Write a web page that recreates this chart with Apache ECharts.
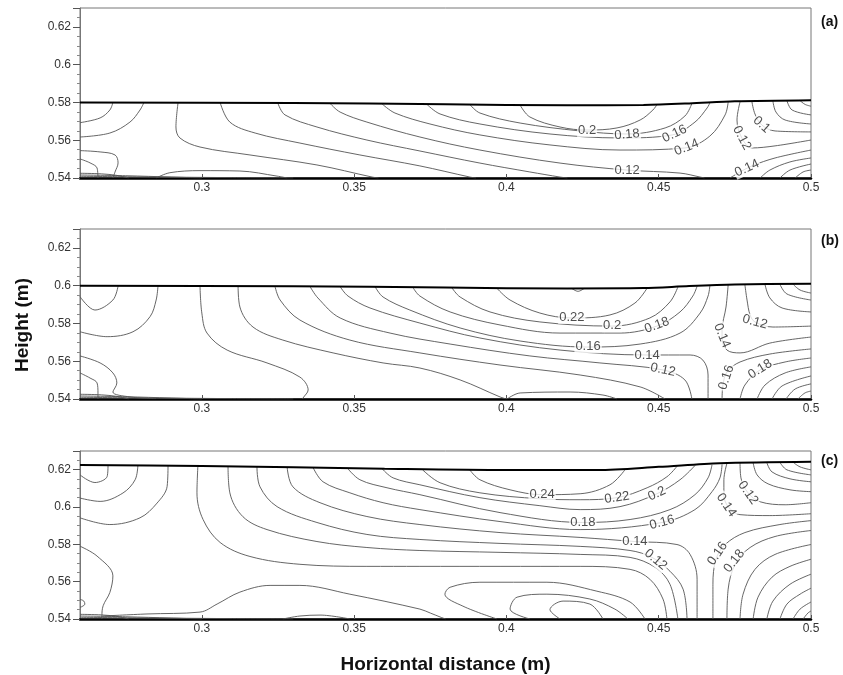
<!DOCTYPE html>
<html>
<head>
<meta charset="utf-8">
<title>Contours</title>
<script src="https://cdn.jsdelivr.net/npm/echarts@6/dist/echarts.min.js"></script>
<style>
  html, body { margin: 0; padding: 0; background: #fff; }
  #chart { width: 843px; height: 675px; }
</style>
</head>
<body>
<div id="chart"></div>
<script>
// tick labels
const xTicks = [0.3, 0.35, 0.4, 0.45, 0.5];
const panelNames = ["(a)", "(b)", "(c)"];

// ---- panel (a) ----
const surfA = [[0.26,0.58],[0.33,0.5797],[0.38,0.579],[0.42,0.5785],[0.445,0.5787],[0.46,0.5795],[0.475,0.5806],[0.5,0.5812]];
const linesA = [
  [[0.26,0.5693],[0.2666,0.5718],[0.2698,0.576],[0.2708,0.58]],
  [[0.26,0.5617],[0.2698,0.5638],[0.2764,0.5696],[0.2797,0.576],[0.281,0.58]],
  [[0.26,0.5545],[0.2666,0.5538],[0.2715,0.5522],[0.2725,0.548],[0.2715,0.5432],[0.2708,0.54]],
  [[0.26,0.5501],[0.2633,0.548],[0.2656,0.5453],[0.2659,0.54]],
  [[0.26,0.5425],[0.267,0.5422],[0.272,0.5414],[0.276,0.54]],
  [[0.26,0.5416],[0.275,0.5412],[0.29,0.5405],[0.30,0.54]],
  [[0.26,0.5409],[0.28,0.5406],[0.31,0.5402],[0.33,0.54]],
  [[0.285,0.54],[0.2895,0.5428],[0.2994,0.5439],[0.3125,0.5437],[0.3247,0.541],[0.328,0.54]],
  [[0.2922,0.58],[0.2915,0.567],[0.2928,0.5612],[0.2994,0.5564],[0.3158,0.5522],[0.3378,0.5469],[0.3559,0.5405],[0.358,0.54]],
  [[0.306,0.58],[0.3092,0.5696],[0.3175,0.5638],[0.3322,0.5585],[0.3519,0.5522],[0.3716,0.5464],[0.388,0.5405],[0.39,0.54]],
  [[0.325,0.5795],[0.3273,0.5734],[0.3378,0.567],[0.3542,0.5601],[0.3716,0.5543],[0.3913,0.5479],[0.4077,0.5432],[0.4176,0.5405],[0.42,0.54]],
  [[0.3421,0.5795],[0.3454,0.5749],[0.3542,0.5696],[0.3716,0.5617],[0.3913,0.5548],[0.4176,0.5479],[0.4396,0.5442],[0.457,0.5426],[0.4636,0.5405],[0.465,0.54]],
  [[0.3592,0.5792],[0.3634,0.5744],[0.3749,0.5686],[0.3913,0.5628],[0.4143,0.5575],[0.4373,0.5548],[0.4586,0.5559],[0.4668,0.5622],[0.4718,0.5734],[0.4728,0.5802]],
  [[0.3739,0.579],[0.3782,0.5739],[0.3913,0.5686],[0.4143,0.5633],[0.4373,0.5612],[0.4544,0.5628],[0.4619,0.5696],[0.4659,0.5771],[0.4668,0.5798]],
  [[0.388,0.5789],[0.3913,0.5744],[0.4045,0.5691],[0.4242,0.5649],[0.4396,0.5633],[0.4521,0.5665],[0.4586,0.5728],[0.4609,0.5795]],
  [[0.4045,0.5786],[0.4077,0.5723],[0.4176,0.567],[0.4265,0.5654],[0.4363,0.5665],[0.4439,0.5707],[0.4481,0.576],[0.4494,0.5788]],
  [[0.4767,0.5803],[0.4757,0.5707],[0.4773,0.5612],[0.4806,0.5559],[0.4882,0.557],[0.5,0.5601]],
  [[0.4806,0.5804],[0.4816,0.5739],[0.4839,0.568],[0.4882,0.5649],[0.5,0.5644]],
  [[0.4875,0.5807],[0.4885,0.5749],[0.4915,0.5707],[0.5,0.5686]],
  [[0.4921,0.5809],[0.4938,0.576],[0.5,0.5734]],
  [[0.4964,0.581],[0.498,0.579],[0.5,0.578]],
  [[0.4734,0.54],[0.4767,0.5432],[0.4806,0.5464],[0.4882,0.5506],[0.5,0.5548]],
  [[0.4833,0.54],[0.4865,0.5442],[0.4931,0.5485],[0.5,0.5506]],
  [[0.4898,0.54],[0.4931,0.5442],[0.5,0.5474]],
  [[0.4948,0.54],[0.4974,0.5432],[0.5,0.5442]]
];
const labelsA = [
  ["0.2", 0.4265, 0.5652, 0], ["0.18", 0.4396, 0.5630, 5], ["0.16", 0.4552, 0.5634, 25],
  ["0.14", 0.4592, 0.5562, 22], ["0.12", 0.4396, 0.5442, 0],
  ["0.12", 0.4773, 0.5612, -62], ["0.1", 0.4838, 0.5683, -42], ["0.14", 0.4790, 0.5452, 25]
];

// ---- panel (b) ----
const surfB = [[0.26,0.6],[0.33,0.5997],[0.38,0.599],[0.42,0.5985],[0.445,0.5987],[0.46,0.5998],[0.475,0.6006],[0.5,0.601]];
const linesB = [
  [[0.26,0.5942],[0.2649,0.5871],[0.2708,0.5924],[0.2725,0.5998]],
  [[0.26,0.5756],[0.2689,0.573],[0.2774,0.5756],[0.283,0.5836],[0.285,0.5924],[0.2856,0.5998]],
  [[0.26,0.5628],[0.2666,0.5591],[0.2708,0.5538],[0.2721,0.5485],[0.2708,0.5437],[0.2764,0.5411],[0.285,0.5402]],
  [[0.26,0.5538],[0.2633,0.5511],[0.2656,0.5485],[0.2659,0.5432],[0.2659,0.54]],
  [[0.26,0.5425],[0.267,0.5422],[0.272,0.5414],[0.276,0.54]],
  [[0.26,0.5416],[0.275,0.5412],[0.29,0.5405],[0.30,0.54]],
  [[0.26,0.5409],[0.28,0.5406],[0.31,0.5402],[0.33,0.54]],
  [[0.2994,0.5998],[0.3,0.5855],[0.3017,0.5749],[0.3083,0.5659],[0.3214,0.5591],[0.3322,0.5516],[0.3349,0.5448],[0.3332,0.5405],[0.333,0.54]],
  [[0.3119,0.5998],[0.3125,0.5887],[0.3168,0.5781],[0.3266,0.5712],[0.3431,0.5644],[0.3595,0.5591],[0.3716,0.5564],[0.3848,0.5501],[0.3979,0.5411],[0.40,0.54]],
  [[0.4002,0.54],[0.4045,0.5432],[0.4209,0.5437],[0.4317,0.5421],[0.4363,0.54]],
  [[0.324,0.5998],[0.3257,0.5924],[0.3322,0.5818],[0.3486,0.5712],[0.3716,0.5644],[0.3979,0.558],[0.4242,0.5527],[0.4439,0.5464],[0.4521,0.54]],
  [[0.3355,0.5996],[0.3381,0.5935],[0.3454,0.5829],[0.3618,0.5749],[0.3815,0.5691],[0.4077,0.5628],[0.4307,0.5591],[0.4514,0.5554],[0.4586,0.5501],[0.4609,0.54]],
  [[0.3454,0.5995],[0.348,0.5945],[0.3552,0.5882],[0.3716,0.5802],[0.3913,0.5723],[0.4176,0.5659],[0.4462,0.5633],[0.4603,0.5633],[0.4645,0.5606],[0.4662,0.5527],[0.4662,0.54]],
  [[0.3569,0.5994],[0.3595,0.594],[0.3683,0.5871],[0.3848,0.5776],[0.4045,0.5707],[0.4268,0.5675],[0.4439,0.5691],[0.457,0.5749],[0.4636,0.5855],[0.4662,0.5945],[0.4668,0.6]],
  [[0.3693,0.5991],[0.3716,0.5945],[0.3815,0.5861],[0.3979,0.5792],[0.4176,0.5749],[0.4373,0.5749],[0.4494,0.5786],[0.457,0.5861],[0.4612,0.5945],[0.4626,0.5997]],
  [[0.3821,0.5989],[0.3848,0.594],[0.3946,0.5861],[0.411,0.5808],[0.4347,0.5786],[0.4471,0.5829],[0.4537,0.5914],[0.4563,0.5993]],
  [[0.3969,0.5986],[0.4012,0.5924],[0.411,0.5855],[0.4215,0.5829],[0.434,0.5845],[0.4422,0.5908],[0.4462,0.5987]],
  [[0.4215,0.5985],[0.4235,0.597],[0.4255,0.5985]],
  [[0.4728,0.6004],[0.4721,0.5887],[0.4708,0.5765],[0.4708,0.5723],[0.4724,0.5659],[0.4767,0.5644],[0.4865,0.5696],[0.5,0.5728]],
  [[0.4783,0.6005],[0.479,0.5924],[0.48,0.5845],[0.4816,0.5808],[0.4875,0.5781],[0.5,0.5786]],
  [[0.4849,0.6006],[0.4865,0.5935],[0.4905,0.5882],[0.5,0.5861]],
  [[0.4898,0.6007],[0.4921,0.5956],[0.5,0.5924]],
  [[0.4941,0.6008],[0.4964,0.5977],[0.5,0.5961]],
  [[0.4708,0.54],[0.4711,0.5474],[0.4724,0.5543],[0.4767,0.5596],[0.4865,0.5638],[0.5,0.5665]],
  [[0.4767,0.54],[0.4783,0.5474],[0.4833,0.5554],[0.4915,0.5596],[0.5,0.5617]],
  [[0.4823,0.54],[0.4849,0.5474],[0.4915,0.5538],[0.5,0.557]],
  [[0.4872,0.54],[0.4905,0.5469],[0.5,0.5522]],
  [[0.4918,0.54],[0.4948,0.5453],[0.5,0.548]],
  [[0.4957,0.54],[0.498,0.5432],[0.5,0.5442]]
];
const labelsB = [
  ["0.22", 0.4215, 0.5832, 0], ["0.2", 0.4347, 0.5788, 0], ["0.18", 0.4494, 0.5790, 20],
  ["0.16", 0.4268, 0.5676, 0], ["0.14", 0.4462, 0.5633, 0], ["0.12", 0.4514, 0.5554, -12],
  ["0.14", 0.4708, 0.5735, -68], ["0.12", 0.4816, 0.5808, -15],
  ["0.16", 0.4722, 0.5514, 72], ["0.18", 0.4833, 0.5558, 32]
];

// ---- panel (c) ----
const surfC = [[0.26,0.6225],[0.3,0.622],[0.36,0.6205],[0.40,0.6198],[0.43,0.6198],[0.45,0.6215],[0.47,0.6235],[0.5,0.6243]];
const linesC = [
  [[0.26,0.6172],[0.2649,0.6131],[0.2689,0.6163],[0.2692,0.6222]],
  [[0.26,0.6048],[0.2666,0.603],[0.2741,0.6075],[0.2781,0.6146],[0.279,0.6222]],
  [[0.26,0.5942],[0.2698,0.5906],[0.2797,0.5942],[0.2853,0.6021],[0.2886,0.611],[0.2889,0.6221]],
  [[0.26,0.579],[0.2656,0.5737],[0.2708,0.5631],[0.2698,0.5542],[0.2676,0.5471],[0.2672,0.5416],[0.2672,0.54]],
  [[0.26,0.5505],[0.2612,0.5497],[0.2616,0.548],[0.2607,0.5467],[0.26,0.5463]],
  [[0.26,0.5425],[0.267,0.5422],[0.272,0.5414],[0.276,0.54]],
  [[0.26,0.5416],[0.275,0.5412],[0.29,0.5405],[0.30,0.54]],
  [[0.26,0.5409],[0.28,0.5406],[0.31,0.5402],[0.33,0.54]],
  [[0.2676,0.5416],[0.282,0.5427],[0.2994,0.5437],[0.305,0.548],[0.3125,0.5544],[0.3224,0.558],[0.3322,0.558],[0.3486,0.5533],[0.3716,0.5453],[0.375,0.5432],[0.3782,0.5411],[0.38,0.54]],
  [[0.3266,0.54],[0.3322,0.5416],[0.3388,0.5421],[0.3486,0.54]],
  [[0.2987,0.6219],[0.2984,0.6076],[0.3004,0.5933],[0.306,0.581],[0.3158,0.5735],[0.3322,0.5693],[0.3542,0.5682],[0.3716,0.5682],[0.3979,0.5682],[0.4242,0.5682],[0.4406,0.5666],[0.4471,0.5613],[0.4514,0.5507],[0.4527,0.54]],
  [[0.3086,0.6218],[0.3092,0.6076],[0.3135,0.5948],[0.3214,0.5879],[0.3378,0.5815],[0.3542,0.5783],[0.3716,0.5767],[0.3979,0.5757],[0.4242,0.5746],[0.4406,0.573],[0.4488,0.5677],[0.4537,0.5586],[0.4563,0.54]],
  [[0.3181,0.6216],[0.3191,0.6108],[0.3247,0.6002],[0.3378,0.5917],[0.3542,0.5853],[0.3716,0.5826],[0.3979,0.5805],[0.4242,0.5789],[0.4406,0.5767],[0.4478,0.573],[0.4537,0.5656],[0.458,0.556],[0.4593,0.54]],
  [[0.328,0.6214],[0.3299,0.6108],[0.3388,0.6023],[0.3542,0.5949],[0.3716,0.5906],[0.3979,0.5863],[0.4242,0.5837],[0.4422,0.5815],[0.456,0.5799],[0.4603,0.5746],[0.4626,0.5613],[0.4626,0.54]],
  [[0.3365,0.6212],[0.3398,0.6135],[0.3486,0.6076],[0.3595,0.6023],[0.3716,0.5986],[0.3979,0.5922],[0.4242,0.5879],[0.4511,0.5917],[0.4619,0.5986],[0.4675,0.6082],[0.4701,0.6156],[0.4708,0.6228]],
  [[0.3477,0.621],[0.3519,0.6146],[0.3608,0.6103],[0.3716,0.6066],[0.3979,0.597],[0.4251,0.5917],[0.4406,0.5933],[0.4537,0.5986],[0.4619,0.6066],[0.4662,0.6156],[0.4675,0.6226]],
  [[0.3592,0.6205],[0.3628,0.6156],[0.3716,0.6119],[0.3913,0.605],[0.411,0.6007],[0.4242,0.5986],[0.4373,0.6002],[0.4494,0.6071],[0.457,0.6146],[0.4619,0.6222]],
  [[0.3723,0.6202],[0.3782,0.613],[0.3913,0.6076],[0.411,0.6044],[0.4242,0.6039],[0.4363,0.605],[0.4462,0.6103],[0.4527,0.6162],[0.456,0.6218]],
  [[0.388,0.6198],[0.3913,0.6146],[0.4012,0.6092],[0.4117,0.6066],[0.4242,0.6071],[0.434,0.6119],[0.4389,0.6199]],
  [[0.3969,0.54],[0.3857,0.5469],[0.3798,0.5533],[0.3815,0.557],[0.3913,0.5597],[0.4133,0.5597],[0.4297,0.5549],[0.4406,0.5491],[0.4455,0.54]],
  [[0.4077,0.54],[0.4012,0.5453],[0.4035,0.5517],[0.4133,0.5533],[0.4274,0.5507],[0.4356,0.5453],[0.4399,0.54]],
  [[0.4176,0.54],[0.4143,0.545],[0.4186,0.5496],[0.4274,0.548],[0.4317,0.54]],
  [[0.4724,0.6234],[0.4714,0.6146],[0.4714,0.6066],[0.4728,0.6002],[0.4767,0.5959],[0.4865,0.5954],[0.5,0.5964]],
  [[0.4767,0.6236],[0.477,0.6156],[0.4793,0.6076],[0.4833,0.6028],[0.4915,0.6012],[0.5,0.6023]],
  [[0.481,0.6237],[0.4823,0.6172],[0.4859,0.6124],[0.4931,0.6092],[0.5,0.6082]],
  [[0.4855,0.6238],[0.4872,0.6188],[0.4931,0.6151],[0.5,0.6135]],
  [[0.4898,0.6239],[0.4921,0.6199],[0.5,0.6172]],
  [[0.4941,0.624],[0.4964,0.6215],[0.5,0.6199]],
  [[0.4678,0.54],[0.4678,0.5586],[0.4688,0.572],[0.4718,0.5799],[0.4783,0.5863],[0.4898,0.5906],[0.5,0.5927]],
  [[0.4724,0.54],[0.4728,0.556],[0.4751,0.5693],[0.48,0.5783],[0.4882,0.5842],[0.5,0.5874]],
  [[0.4767,0.54],[0.4777,0.5533],[0.4816,0.5666],[0.4882,0.5746],[0.5,0.5799]],
  [[0.481,0.54],[0.4826,0.5517],[0.4872,0.5624],[0.4931,0.5682],[0.5,0.572]],
  [[0.4855,0.54],[0.4875,0.5496],[0.4931,0.5586],[0.5,0.564]],
  [[0.4898,0.54],[0.4921,0.548],[0.4964,0.5533],[0.5,0.5565]],
  [[0.4941,0.54],[0.4964,0.5453],[0.5,0.5491]],
  [[0.4974,0.54],[0.499,0.5432],[0.5,0.5443]]
];
const labelsC = [
  ["0.24", 0.4117, 0.6066, 0], ["0.22", 0.4363, 0.6050, 8], ["0.2", 0.4494, 0.6071, 25],
  ["0.18", 0.4251, 0.5917, 0], ["0.16", 0.4511, 0.5917, 15], ["0.14", 0.4422, 0.5815, 0],
  ["0.12", 0.4490, 0.5718, -40],
  ["0.12", 0.4793, 0.6076, -55], ["0.14", 0.4722, 0.6010, -55],
  ["0.16", 0.4693, 0.5750, 55], ["0.18", 0.4748, 0.5710, 52]
];

const panels = [
  { surf: surfA, lines: linesA, labels: labelsA, top: 8, height: 170, nameTop: 23 },
  { surf: surfB, lines: linesB, labels: labelsB, top: 229, height: 170, nameTop: 242 },
  { surf: surfC, lines: linesC, labels: labelsC, top: 451, height: 169, nameTop: 462 }
];

const chart = echarts.init(document.getElementById("chart"));
const grids = [], xAxes = [], yAxes = [], series = [], texts = [];

panels.forEach((p, i) => {
  grids.push({
    left: 80, width: 731, top: p.top, height: p.height,
    show: true, borderColor: "#777", borderWidth: 1
  });
  xAxes.push({
    gridIndex: i, type: "value", min: 0.26, max: 0.5,
    axisLine: { show: true, lineStyle: { color: "#000", width: 2.5 } },
    axisTick: { show: true, inside: true, length: 4, customValues: xTicks, lineStyle: { color: "#555" } },
    axisLabel: { customValues: xTicks, color: "#333", fontSize: 12, fontFamily: "Liberation Sans, Arial", margin: 4 },
    splitLine: { show: false },
    name: i === 2 ? "Horizontal distance (m)" : "",
    nameLocation: "middle", nameGap: 36,
    nameTextStyle: { fontSize: 19, fontWeight: "bold", color: "#111", fontFamily: "Liberation Sans, Arial" }
  });
  yAxes.push({
    gridIndex: i, type: "value", min: 0.54, max: 0.63, interval: 0.02,
    axisLine: { show: true, lineStyle: { color: "#777", width: 1 } },
    axisTick: { show: true, length: 7, lineStyle: { color: "#555" } },
    minorTick: { show: true, splitNumber: 4, length: 3, lineStyle: { color: "#888" } },
    axisLabel: {
      color: "#333", fontSize: 12, fontFamily: "Liberation Sans, Arial", margin: 9,
      showMaxLabel: false
    },
    splitLine: { show: false }
  });
  p.lines.forEach((ln) => {
    series.push({
      type: "line", xAxisIndex: i, yAxisIndex: i, data: ln,
      showSymbol: false, smooth: 0.35, silent: true, z: 2,
      lineStyle: { color: "#555", width: 0.9 }
    });
  });
  series.push({
    type: "line", xAxisIndex: i, yAxisIndex: i, data: p.surf,
    showSymbol: false, smooth: 0.3, silent: true, z: 4,
    lineStyle: { color: "#000", width: 2 }
  });
  series.push({
    type: "scatter", xAxisIndex: i, yAxisIndex: i, z: 5, silent: true,
    symbolSize: 1, itemStyle: { color: "rgba(0,0,0,0)" },
    data: p.labels.map((l) => ({
      value: [l[1], l[2]],
      label: { formatter: l[0], rotate: l[3] }
    })),
    label: {
      show: true, position: "inside", color: "#222", fontSize: 13,
      fontFamily: "Liberation Sans, Arial",
      backgroundColor: "#fff", padding: [0, 1]
    }
  });
  texts.push({
    type: "text", left: 821, top: p.nameTop - 8,
    style: { text: panelNames[i], fontSize: 14, fontWeight: "bold", fill: "#111", fontFamily: "Liberation Sans, Arial" }
  });
});

texts.push({
  type: "text", rotation: Math.PI / 2, x: 23, y: 325,
  style: {
    text: "Height (m)", fontSize: 19, fontWeight: "bold", fill: "#111",
    fontFamily: "Liberation Sans, Arial", align: "center", verticalAlign: "middle"
  }
});

chart.setOption({
  animation: false,
  grid: grids,
  xAxis: xAxes,
  yAxis: yAxes,
  series: series,
  graphic: texts
});
</script>
</body>
</html>
